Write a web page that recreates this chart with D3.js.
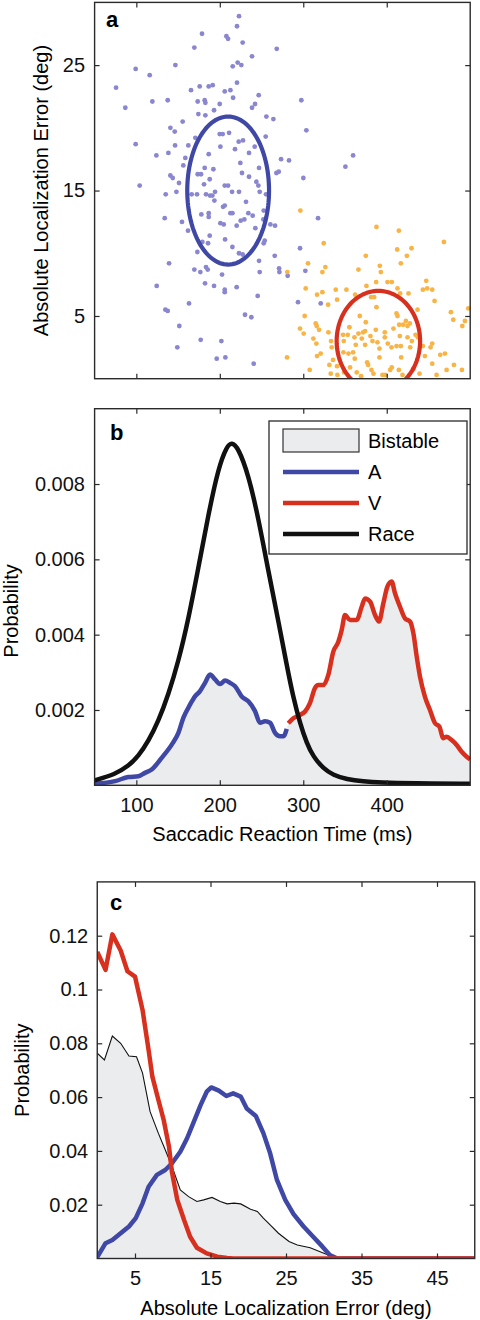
<!DOCTYPE html>
<html><head><meta charset="utf-8">
<script src="https://cdn.jsdelivr.net/npm/d3@7"></script>
<style>body{margin:0;background:#fff} svg{display:block} text{font-family:"Liberation Sans",Arial,Helvetica,sans-serif}</style>
</head><body>
<script>
// ---------------- DATA ----------------
// Panel a: auditory-dominant trials [RT ms, error deg]
const blueDots = [
[223.0,28.9],[220.6,28.1],[178.7,27.5],[207.9,27.3],[209.9,27.1],[227.4,26.8],[169.5,26.4],[268.2,26.3],[238.6,25.7],
[99.2,24.7],[116.0,24.2],[146.8,25.0],[221.4,25.2],[225.8,25.0],[215.5,24.9],[75.7,23.2],[165.5,23.0],[175.9,23.3],
[186.7,23.3],[191.5,23.4],[205.9,22.9],[212.7,23.0],[220.6,23.6],[215.9,22.4],[246.6,22.6],[119.2,22.1],[137.6,22.2],
[173.5,22.1],[181.9,22.2],[182.7,22.0],[199.9,21.9],[242.2,21.9],[238.6,21.6],[86.8,21.6],[193.1,21.4],[174.3,21.1],
[182.7,21.0],[255.8,20.9],[264.2,20.7],[155.5,20.5],[140.8,20.0],[146.0,19.7],[199.9,19.5],[203.5,19.5],[211.1,19.6],
[99.2,18.7],[124.0,17.8],[138.4,18.0],[146.4,18.6],[162.3,18.6],[170.7,19.2],[200.7,18.5],[218.2,18.3],[222.6,18.9],
[227.8,19.0],[235.0,18.0],[241.8,18.5],[255.0,19.3],[186.7,17.9],[158.7,17.6],[224.6,17.2],[156.3,17.0],[181.9,16.8],
[192.3,16.7],[247.0,16.8],[173.5,16.3],[177.5,16.3],[140.8,16.2],[143.6,16.0],[187.9,15.9],[226.6,16.4],[235.0,16.1],
[267.8,16.4],[270.6,16.5],[273.4,17.5],[104.0,15.4],[151.1,15.6],[181.1,15.5],[205.9,15.4],[209.9,15.4],[243.8,15.7],[246.2,15.4],
[135.2,14.7],[148.0,14.9],[166.3,14.7],[172.7,14.7],[183.5,14.7],[188.3,14.6],[191.1,14.6],[194.3,14.9],[193.5,14.2],
[214.7,14.9],[223.0,14.9],[247.8,14.9],[255.4,14.7],[134.0,12.8],[154.7,12.5],[161.9,11.8],[177.9,13.1],[186.7,13.2],
[186.7,12.9],[203.9,13.7],[205.9,13.8],[212.7,13.2],[215.1,13.2],[231.4,14.1],[234.2,13.2],[239.4,13.0],[225.0,12.6],
[229.4,12.7],[252.6,13.4],[252.2,12.7],[220.2,12.2],[200.7,12.4],[204.7,12.3],[242.6,12.0],[260.6,12.3],[266.2,12.2],
[187.9,11.4],[185.9,10.8],[179.1,10.9],[206.3,11.1],[173.1,10.1],[215.1,10.5],[223.0,10.0],[227.4,9.9],[253.8,11.0],
[252.6,10.8],[247.0,9.4],[265.8,9.8],[139.2,9.2],[169.5,8.7],[176.7,8.5],[183.5,8.9],[185.5,8.7],[202.7,8.3],[247.8,8.5],
[271.0,8.8],[271.4,8.5],[124.4,7.4],[182.3,7.6],[193.1,7.4],[205.9,7.1],[205.9,6.9],[220.2,7.3],[245.4,6.6],[163.1,6.0],
[134.8,5.5],[137.6,5.4],[230.2,5.1],[237.8,4.9],[151.5,4.2],[177.1,3.1],[201.9,3.0],[149.1,2.5],[196.3,1.6],[206.7,1.7],
[240.6,1.2],[297.7,22.2],[303.7,19.8],[359.7,17.8],[350.5,16.9],[300.1,16.0],[282.9,17.4],
[317.7,12.8],[296.1,10.4],[302.5,8.6],[281.3,8.2],[293.7,6.1],[320.9,6.0]
];
// Panel a: visual-dominant trials [RT ms, error deg]
const orangeDots = [
[296.5,13.4],[387.7,12.1],[414.5,11.8],[324.5,10.8],[468.5,10.9],[412.5,10.3],[429.7,10.4],[374.9,9.8],[424.1,9.8],
[305.7,9.2],[326.5,8.9],[322.9,8.5],[280.9,8.5],[366.1,8.7],[391.7,9.0],[392.9,8.5],[416.9,9.2],[302.9,7.2],[338.9,7.1],
[351.7,7.1],[375.7,7.4],[387.3,7.7],[400.9,7.7],[406.1,7.7],[412.9,7.2],[416.1,6.8],[447.3,7.8],[443.3,7.1],[448.5,7.2],
[454.5,7.1],[457.3,6.2],[316.5,6.7],[322.9,6.9],[329.7,5.9],[340.5,6.3],[362.1,6.7],[381.3,6.5],[384.9,6.5],[426.1,6.8],
[436.9,5.5],[476.9,5.3],[497.7,5.6],[301.7,5.0],[367.7,5.0],[387.7,5.7],[411.7,5.2],[412.9,5.0],[374.9,4.5],[422.9,4.6],
[419.7,4.3],[424.9,4.2],[427.7,4.4],[414.9,4.3],[296.1,4.0],[300.5,3.6],[314.9,4.4],[316.1,4.2],[318.9,3.9],[330.1,3.7],
[355.3,4.1],[353.3,3.5],[361.3,3.3],[366.1,3.6],[371.7,3.7],[374.1,3.8],[370.1,3.2],[380.5,3.4],[386.9,3.9],[397.7,3.7],
[408.1,4.0],[415.7,3.4],[424.9,3.3],[434.5,3.5],[437.3,3.3],[479.7,4.7],[493.7,4.6],[490.5,4.2],[347.7,3.5],[348.5,3.0],
[333.3,3.0],[312.1,3.2],[315.7,2.8],[334.1,2.5],[348.1,2.1],[362.9,2.7],[374.1,2.7],[382.9,3.0],[388.9,2.9],[391.3,2.4],
[397.7,3.3],[401.3,2.8],[405.7,2.5],[411.7,2.6],[416.9,2.6],[428.1,2.5],[430.1,3.0],[443.3,2.6],[452.5,2.5],[454.5,2.8],
[469.7,2.0],[464.1,1.9],[280.5,1.7],[316.5,1.8],[320.9,2.0],[335.7,1.5],[331.3,1.1],[340.5,1.0],[354.1,2.0],[359.7,2.1],
[361.7,1.6],[376.5,1.3],[377.7,1.1],[391.3,1.7],[406.1,0.9],[417.3,1.7],[432.1,0.8],[445.7,1.8],[454.5,1.2],[480.5,1.1],
[307.7,0.7],[332.9,0.4],[340.9,0.3],[348.9,0.5],[356.1,0.9],[364.1,0.5],[369.3,0.2],[381.7,0.7],[384.1,0.4],[394.9,0.3],
[398.1,0.3],[404.1,0.7],[414.5,0.7],[418.9,0.3],[439.3,0.4],[459.7,0.3],[471.7,0.7],[490.1,0.7]
];
// ellipses: [centre RT, centre error, RT radius, error radius]
const ellipseA = [210, 15, 49, 5.9];
const ellipseV = [390, 3, 50, 4.0];

// Panel b: RT distributions [RT ms, probability]
const raceB = [
[50,0.00013],[74.5,0.00029],[90.4,0.00051],[102.4,0.00077],[114.4,0.00117],[126.4,0.00170],[138.4,0.00241],
[150.4,0.00329],[162.3,0.00440],[174.3,0.00577],[186.3,0.00719],[198.3,0.00843],[208.3,0.00900],[214.3,0.00911],
[222.2,0.00896],[234.2,0.00825],[246.2,0.00710],[258.2,0.00568],[270.2,0.00436],[280.1,0.00320],[288.1,0.00232],
[296.1,0.00165],[304.1,0.00112],[312.0,0.00076],[324.0,0.00045],[336.0,0.00027],[352.0,0.00016],[372.0,0.00010],
[391.9,0.00007],[431.9,0.00005],[500,0.00004]
];
const audB = [
[50,0.00004],[74.5,0.00011],[90.4,0.00022],[102.4,0.00024],[110.4,0.00033],[118.4,0.00042],[130.4,0.00073],
[142.4,0.00108],[150.4,0.00139],[156.3,0.00179],[164.3,0.00214],[170.3,0.00236],[176.3,0.00250],[182.3,0.00272],
[188.3,0.00294],[194.3,0.00281],[200.3,0.00269],[206.3,0.00278],[212.3,0.00272],[218.3,0.00263],[226.2,0.00236],
[234.2,0.00223],[242.2,0.00197],[248.2,0.00166],[254.2,0.00170],[260.2,0.00166],[266.2,0.00139],[272.2,0.00130],
[276.2,0.00130],[280.2,0.00150]
];
const visB = [
[282.1,0.00165],[288.1,0.00178],[296.1,0.00187],[302.1,0.00196],[308.0,0.00218],[314.0,0.00258],[318.0,0.00266],
[324.0,0.00266],[330.0,0.00293],[336.0,0.00355],[342.0,0.00381],[346.0,0.00412],[350.0,0.00452],[356.0,0.00439],
[364.0,0.00439],[370.0,0.00474],[374.0,0.00496],[380.0,0.00488],[386.0,0.00452],[390.7,0.00435],[395.9,0.00483],
[400.7,0.00527],[405.9,0.00541],[409.9,0.00510],[415.9,0.00474],[421.9,0.00443],[427.9,0.00435],[431.9,0.00404],
[435.9,0.00342],[439.9,0.00288],[445.8,0.00235],[451.8,0.00200],[457.8,0.00165],[463.0,0.00156],[467.8,0.00125],
[471.8,0.00129],[477.8,0.00120],[483.8,0.00107],[489.8,0.00089],[495.8,0.00076],[500,0.00069]
];
// Panel c: error distributions [error deg, probability]
const visC = [
[0,0.114],[1.1,0.1073],[2.0,0.1205],[3.1,0.1145],[4.0,0.1068],[5.0,0.1048],[6.0,0.0924],[6.8,0.0775],[7.3,0.0676],
[8.1,0.0589],[8.8,0.0515],[9.5,0.0416],[9.9,0.0320],[10.6,0.0218],[11.5,0.0143],[12.3,0.0081],[13.2,0.0040],
[14.5,0.0019],[15.9,0.0007],[17.2,0.0002],[18,0],[50,0]
];
const audC = [
[0,0.0005],[1.1,0.0057],[2.0,0.0069],[3.1,0.0094],[4.2,0.0119],[5.1,0.0150],[6.0,0.0205],[6.8,0.0267],[7.9,0.0311],
[9.0,0.0329],[9.9,0.0354],[11.0,0.0397],[11.9,0.0447],[12.8,0.0509],[13.7,0.0571],[14.5,0.0620],[15.1,0.0636],
[16.1,0.0624],[17.1,0.0604],[18.0,0.0614],[19.0,0.0602],[19.8,0.0558],[21.0,0.0530],[22.0,0.0466],[22.9,0.0391],
[23.8,0.0292],[24.9,0.0218],[26.0,0.0165],[27.3,0.0120],[28.6,0.0081],[29.8,0.0045],[30.8,0.0013],[31.8,0],[50,0]
];
const bistC = [
[0,0.0763],[0.95,0.0738],[2.0,0.0827],[3.1,0.0800],[4.2,0.0753],[5.2,0.0750],[6.0,0.0689],[7.0,0.0546],[8.1,0.0465],
[9.0,0.0404],[9.9,0.0342],[11.0,0.0255],[12.1,0.0230],[13.2,0.0212],[14.1,0.0218],[15.2,0.0227],[16.3,0.0212],
[17.2,0.0203],[18.1,0.0206],[19.0,0.0203],[20.3,0.0183],[21.2,0.0175],[22.0,0.0150],[22.9,0.0125],[24.0,0.0094],
[25.4,0.0063],[26.5,0.0050],[28.2,0.0040],[30.1,0.0019],[31.3,0.0005],[32,0]
];
// ticks & labels
const rtTicks = [100,200,300,400];
const errTicksA = [5,15,25];
const probTicksB = [0.002,0.004,0.006,0.008];
const errTicksC = [5,15,25,35,45];
const probTicksC = [0.02,0.04,0.06,0.08,0.1,0.12];
const legendLabels = ["Bistable","A","V","Race"];

// ---------------- DRAWING ----------------
const C = {blueDot:"#8a86cf", orangeDot:"#f9b446", blue:"#4048a6", red:"#d8301f", black:"#111", fill:"#ebeced", axis:"#2a2a2a"};
const FONT = 20;
const svg = d3.select("body").append("svg").attr("width",480).attr("height",1320);

function frame(g, x, y, xt, yt, opt){
  const [x0,x1]=x.range(), [y0,y1]=y.range();
  const tk=5;
  const bottom = g.append("g").attr("transform",`translate(0,${y0})`)
    .call(d3.axisBottom(x).tickValues(xt).tickSize(-tk).tickPadding(opt.xPad||12.5).tickFormat(opt.xLabels?(d=>String(d)):""));
  const top = g.append("g").attr("transform",`translate(0,${y1})`)
    .call(d3.axisTop(x).tickValues(xt).tickSize(-tk).tickFormat(""));
  const left = g.append("g").attr("transform",`translate(${x0},0)`)
    .call(d3.axisLeft(y).tickValues(yt).tickSize(-tk).tickPadding(opt.yPad||9.6).tickFormat(d=>String(d)));
  const right = g.append("g").attr("transform",`translate(${x1},0)`)
    .call(d3.axisRight(y).tickValues(yt).tickSize(-tk).tickFormat(""));
  [bottom,top,left,right].forEach(a=>{
    a.select(".domain").remove();
    a.attr("font-family",null).attr("font-size",null);
    a.selectAll("line").attr("stroke",C.axis).attr("stroke-width",1.2);
    a.selectAll("text").attr("font-size",FONT).attr("fill","#111");
  });
  g.append("rect").attr("x",x0).attr("y",y1).attr("width",x1-x0).attr("height",y0-y1)
    .attr("fill","none").attr("stroke",C.axis).attr("stroke-width",1.4);
}
function clip(id,x,y){
  const [x0,x1]=x.range(), [y0,y1]=y.range();
  svg.append("clipPath").attr("id",id).append("rect").attr("x",x0).attr("y",y1).attr("width",x1-x0).attr("height",y0-y1);
  return `url(#${id})`;
}

// ---- Panel a ----
const xA = d3.scaleLinear().domain([50,500]).range([94.6,470.2]);
const yA = d3.scaleLinear().domain([0,30]).range([378.7,2.4]);
const gA = svg.append("g");
const pA = gA.append("g").attr("clip-path",clip("clipA",xA,yA));
pA.selectAll(".bd").data(blueDots).join("circle").attr("cx",d=>xA(d[0])).attr("cy",d=>yA(d[1])).attr("r",2.4).attr("fill",C.blueDot);
pA.selectAll(".od").data(orangeDots).join("circle").attr("cx",d=>xA(d[0])).attr("cy",d=>yA(d[1])).attr("r",2.4).attr("fill",C.orangeDot);
function ellipsePath(e){
  const pts=d3.range(0,361,3).map(a=>{const t=a*Math.PI/180;return [e[0]+e[2]*Math.cos(t), e[1]+e[3]*Math.sin(t)];});
  return d3.line().x(d=>xA(d[0])).y(d=>yA(d[1]))(pts)+"Z";
}
pA.append("path").attr("d",ellipsePath(ellipseA)).attr("fill","none").attr("stroke",C.blue).attr("stroke-width",4.2);
pA.append("path").attr("d",ellipsePath(ellipseV)).attr("fill","none").attr("stroke",C.red).attr("stroke-width",4.2);
frame(gA,xA,yA,rtTicks,errTicksA,{xLabels:false});
gA.append("text").attr("x",106).attr("y",27).attr("font-size",22).attr("font-weight","bold").text("a");
gA.append("text").attr("transform",`translate(47.5,${(yA.range()[0]+yA.range()[1])/2}) rotate(-90)`)
  .attr("text-anchor","middle").attr("font-size",FONT).text("Absolute Localization Error (deg)");

// ---- Panel b ----
const xB = d3.scaleLinear().domain([50,500]).range([94.6,470.2]);
const yB = d3.scaleLinear().domain([0,0.01]).range([785.3,408.7]);
const gB = svg.append("g");
const pB = gB.append("g").attr("clip-path",clip("clipB",xB,yB));
const bistB = audB.concat(visB);
pB.append("path").attr("d",d3.area().x(d=>xB(d[0])).y0(yB(0)).y1(d=>yB(d[1])).curve(d3.curveMonotoneX)(bistB)).attr("fill",C.fill);
const lineB = d3.line().x(d=>xB(d[0])).y(d=>yB(d[1])).curve(d3.curveMonotoneX);
pB.append("path").attr("d",lineB(audB)).attr("fill","none").attr("stroke",C.blue).attr("stroke-width",4.5).attr("stroke-linejoin","round");
pB.append("path").attr("d",lineB(visB)).attr("fill","none").attr("stroke",C.red).attr("stroke-width",4.5).attr("stroke-linejoin","round");
pB.append("path").attr("d",d3.line().x(d=>xB(d[0])).y(d=>yB(d[1])).curve(d3.curveBasis)(raceB)).attr("fill","none").attr("stroke",C.black).attr("stroke-width",4.5);
frame(gB,xB,yB,rtTicks,probTicksB,{xLabels:true,xPad:12.5,yPad:9.6});
gB.append("text").attr("x",110).attr("y",439.5).attr("font-size",22).attr("font-weight","bold").text("b");
gB.append("text").attr("transform",`translate(17.5,611) rotate(-90)`).attr("text-anchor","middle").attr("font-size",FONT).text("Probability");
gB.append("text").attr("x",(xB.range()[0]+xB.range()[1])/2).attr("y",841).attr("text-anchor","middle").attr("font-size",FONT).text("Saccadic Reaction Time (ms)");
// legend
const lg = gB.append("g");
lg.append("rect").attr("x",269).attr("y",421).attr("width",198).attr("height",133).attr("fill","#fff").attr("stroke",C.axis).attr("stroke-width",1.3);
const legY = [440.5,472,503,534];
lg.append("rect").attr("x",283).attr("y",429).attr("width",76).attr("height",23).attr("fill",C.fill).attr("stroke","#333").attr("stroke-width",1.2);
[C.blue,C.red,C.black].forEach((c,i)=>lg.append("line").attr("x1",283).attr("x2",359).attr("y1",legY[i+1]).attr("y2",legY[i+1]).attr("stroke",c).attr("stroke-width",4.5));
legendLabels.forEach((t,i)=>lg.append("text").attr("x",368).attr("y",legY[i]+7).attr("font-size",FONT).text(t));

// ---- Panel c ----
const xC = d3.scaleLinear().domain([0,50]).range([97.25,474.75]);
const yC = d3.scaleLinear().domain([0,0.14]).range([1258.5,881.9]);
const gC = svg.append("g");
const pC = gC.append("g").attr("clip-path",clip("clipC",xC,yC));
pC.append("path").attr("d",d3.area().x(d=>xC(d[0])).y0(yC(0)).y1(d=>yC(d[1]))(bistC)).attr("fill",C.fill);
const lineC = d3.line().x(d=>xC(d[0])).y(d=>yC(d[1]));
pC.append("path").attr("d",lineC(bistC)).attr("fill","none").attr("stroke",C.black).attr("stroke-width",1.1);
pC.append("path").attr("d",lineC(audC)).attr("fill","none").attr("stroke",C.blue).attr("stroke-width",4.5).attr("stroke-linejoin","round");
pC.append("path").attr("d",lineC(visC)).attr("fill","none").attr("stroke",C.red).attr("stroke-width",4.5).attr("stroke-linejoin","round");
frame(gC,xC,yC,errTicksC,probTicksC,{xLabels:true,xPad:12.3,yPad:9});
gC.append("text").attr("x",110).attr("y",910).attr("font-size",22).attr("font-weight","bold").text("c");
gC.append("text").attr("transform",`translate(29,${(yC.range()[0]+yC.range()[1])/2}) rotate(-90)`).attr("text-anchor","middle").attr("font-size",FONT).text("Probability");
gC.append("text").attr("x",(xC.range()[0]+xC.range()[1])/2).attr("y",1315).attr("text-anchor","middle").attr("font-size",FONT).text("Absolute Localization Error (deg)");
</script>
</body></html>
